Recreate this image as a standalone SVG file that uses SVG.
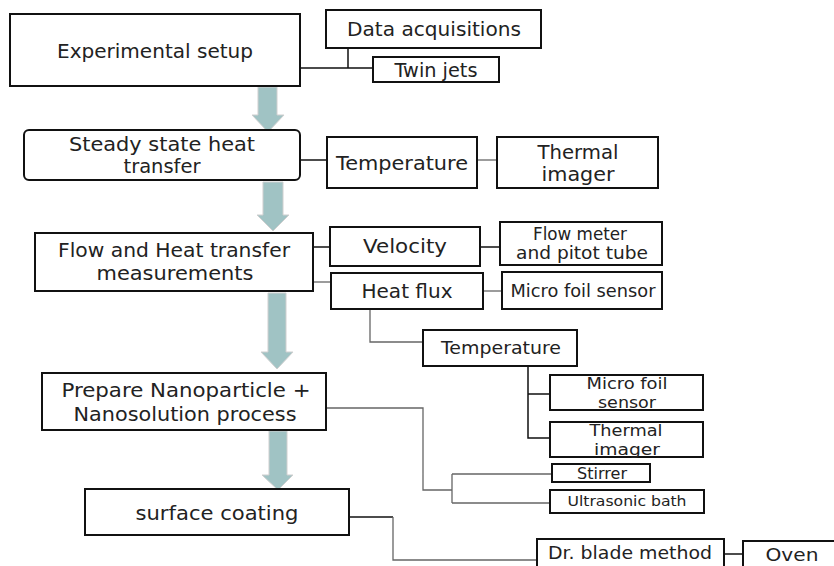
<svg xmlns="http://www.w3.org/2000/svg" width="834" height="566" viewBox="0 0 834 566">
<style>
.b{fill:#fff;stroke:#111;stroke-width:2}
.t{font-family:"DejaVu Sans",sans-serif;fill:#222;text-anchor:middle}
.c{fill:none;stroke:#111;stroke-width:1.5}
.g{fill:none;stroke:#666;stroke-width:1.3}
.a{fill:#a0c3c4;stroke:#cfcfcf;stroke-width:1}
</style>
<rect width="834" height="566" fill="#fff"/>
<g id="arrows">
<path class="a" d="M258,87 H277 V115 H284 L268,132 L252,115 H258 Z"/>
<path class="a" d="M263,182 H283 V215 H289 L273,231 L257,215 H263 Z"/>
<path class="a" d="M268,293 H286 V352 H293 L277,369 L261,352 H268 Z"/>
<path class="a" d="M269,431 H287 V475 H293 L278,490 L262,475 H269 Z"/>
</g>
<g id="connectors">
<path class="c" d="M300,68 H373 M348,48 V68"/>
<path class="c" d="M300,160 H327"/>
<path class="g" d="M477,160 H497"/>
<path class="c" d="M313,247 H330"/>
<path class="g" d="M313,282 H331"/>
<path class="c" d="M480,247 H500"/>
<path class="g" d="M483,291 H502"/>
<path class="g" d="M370,309 V342 H423"/>
<path class="c" d="M528,366 V438 H550 M528,394 H550"/>
<path class="g" d="M326,408 H423 V490 H452 M452,474 V503 M452,474 H552 M452,503 H550"/>
<path class="c" d="M349,517 H393"/>
<path class="g" d="M393,517 V560 H537"/>
<path class="c" d="M724,554 H743"/>
</g>
<g id="n1"><rect class="b" x="10" y="14" width="290" height="72"/><text class="t" x="155" y="58" font-size="20" textLength="196" lengthAdjust="spacingAndGlyphs">Experimental setup</text></g>
<g id="n2"><rect class="b" x="326" y="10" width="215" height="38"/><text class="t" x="434" y="36" font-size="19" textLength="174" lengthAdjust="spacingAndGlyphs">Data acquisitions</text></g>
<g id="n3"><rect class="b" x="373" y="57" width="126" height="25"/><text class="t" x="436" y="77" font-size="19" textLength="83" lengthAdjust="spacingAndGlyphs">Twin jets</text></g>
<g id="n4"><rect class="b" x="24" y="130" width="276" height="50" rx="5"/><text class="t" x="162" y="151" font-size="19" textLength="186" lengthAdjust="spacingAndGlyphs">Steady state heat</text><text class="t" x="162" y="173" font-size="19" textLength="77" lengthAdjust="spacingAndGlyphs">transfer</text></g>
<g id="n5"><rect class="b" x="327" y="137" width="150" height="51"/><text class="t" x="402" y="170" font-size="19" textLength="132" lengthAdjust="spacingAndGlyphs">Temperature</text></g>
<g id="n6"><rect class="b" x="497" y="137" width="161" height="51"/><text class="t" x="578" y="159" font-size="19" textLength="81" lengthAdjust="spacingAndGlyphs">Thermal</text><text class="t" x="578" y="181" font-size="19" textLength="73" lengthAdjust="spacingAndGlyphs">imager</text></g>
<g id="n7"><rect class="b" x="35" y="233" width="278" height="58"/><text class="t" x="174" y="257" font-size="19" textLength="232" lengthAdjust="spacingAndGlyphs">Flow and Heat transfer</text><text class="t" x="175" y="280" font-size="19" textLength="157" lengthAdjust="spacingAndGlyphs">measurements</text></g>
<g id="n8"><rect class="b" x="330" y="227" width="150" height="39"/><text class="t" x="405" y="253" font-size="19" textLength="84" lengthAdjust="spacingAndGlyphs">Velocity</text></g>
<g id="n9"><rect class="b" x="500" y="222" width="162" height="43"/><text class="t" x="580" y="240" font-size="17" textLength="94" lengthAdjust="spacingAndGlyphs">Flow meter</text><text class="t" x="582" y="259" font-size="17" textLength="132" lengthAdjust="spacingAndGlyphs">and pitot tube</text></g>
<g id="n10"><rect class="b" x="331" y="273" width="152" height="36"/><text class="t" x="407" y="298" font-size="19" textLength="91" lengthAdjust="spacingAndGlyphs">Heat flux</text></g>
<g id="n11"><rect class="b" x="502" y="272" width="160" height="37"/><text class="t" x="583" y="297" font-size="17" textLength="145" lengthAdjust="spacingAndGlyphs">Micro foil sensor</text></g>
<g id="n12"><rect class="b" x="423" y="330" width="154" height="36"/><text class="t" x="501" y="354" font-size="17" textLength="120" lengthAdjust="spacingAndGlyphs">Temperature</text></g>
<g id="n13"><rect class="b" x="550" y="375" width="153" height="35"/><text class="t" x="627" y="389" font-size="16" textLength="81" lengthAdjust="spacingAndGlyphs">Micro foil</text><text class="t" x="627" y="408" font-size="16" textLength="58" lengthAdjust="spacingAndGlyphs">sensor</text></g>
<g id="n14"><rect class="b" x="550" y="422" width="153" height="35"/><text class="t" x="626" y="436" font-size="16" textLength="73" lengthAdjust="spacingAndGlyphs">Thermal</text><text class="t" x="627" y="455" font-size="16" textLength="66" lengthAdjust="spacingAndGlyphs">imager</text></g>
<g id="n15"><rect class="b" x="42" y="373" width="284" height="57"/><text class="t" x="186" y="397" font-size="19" textLength="249" lengthAdjust="spacingAndGlyphs">Prepare Nanoparticle +</text><text class="t" x="185" y="421" font-size="19" textLength="223" lengthAdjust="spacingAndGlyphs">Nanosolution process</text></g>
<g id="n16"><rect class="b" x="85" y="489" width="264" height="46"/><text class="t" x="217" y="520" font-size="19" textLength="163" lengthAdjust="spacingAndGlyphs">surface coating</text></g>
<g id="n17"><rect class="b" x="552" y="464" width="98" height="18"/><text class="t" x="602" y="479" font-size="15" textLength="50" lengthAdjust="spacingAndGlyphs">Stirrer</text></g>
<g id="n18"><rect class="b" x="550" y="490" width="154" height="23"/><text class="t" x="627" y="506" font-size="14" textLength="119" lengthAdjust="spacingAndGlyphs">Ultrasonic bath</text></g>
<g id="n19"><rect class="b" x="537" y="539" width="187" height="35"/><text class="t" x="630" y="559" font-size="18" textLength="164" lengthAdjust="spacingAndGlyphs">Dr. blade method</text></g>
<g id="n20"><rect class="b" x="743" y="541" width="100" height="35"/><text class="t" x="792" y="561" font-size="18" textLength="53" lengthAdjust="spacingAndGlyphs">Oven</text></g>
</svg>
